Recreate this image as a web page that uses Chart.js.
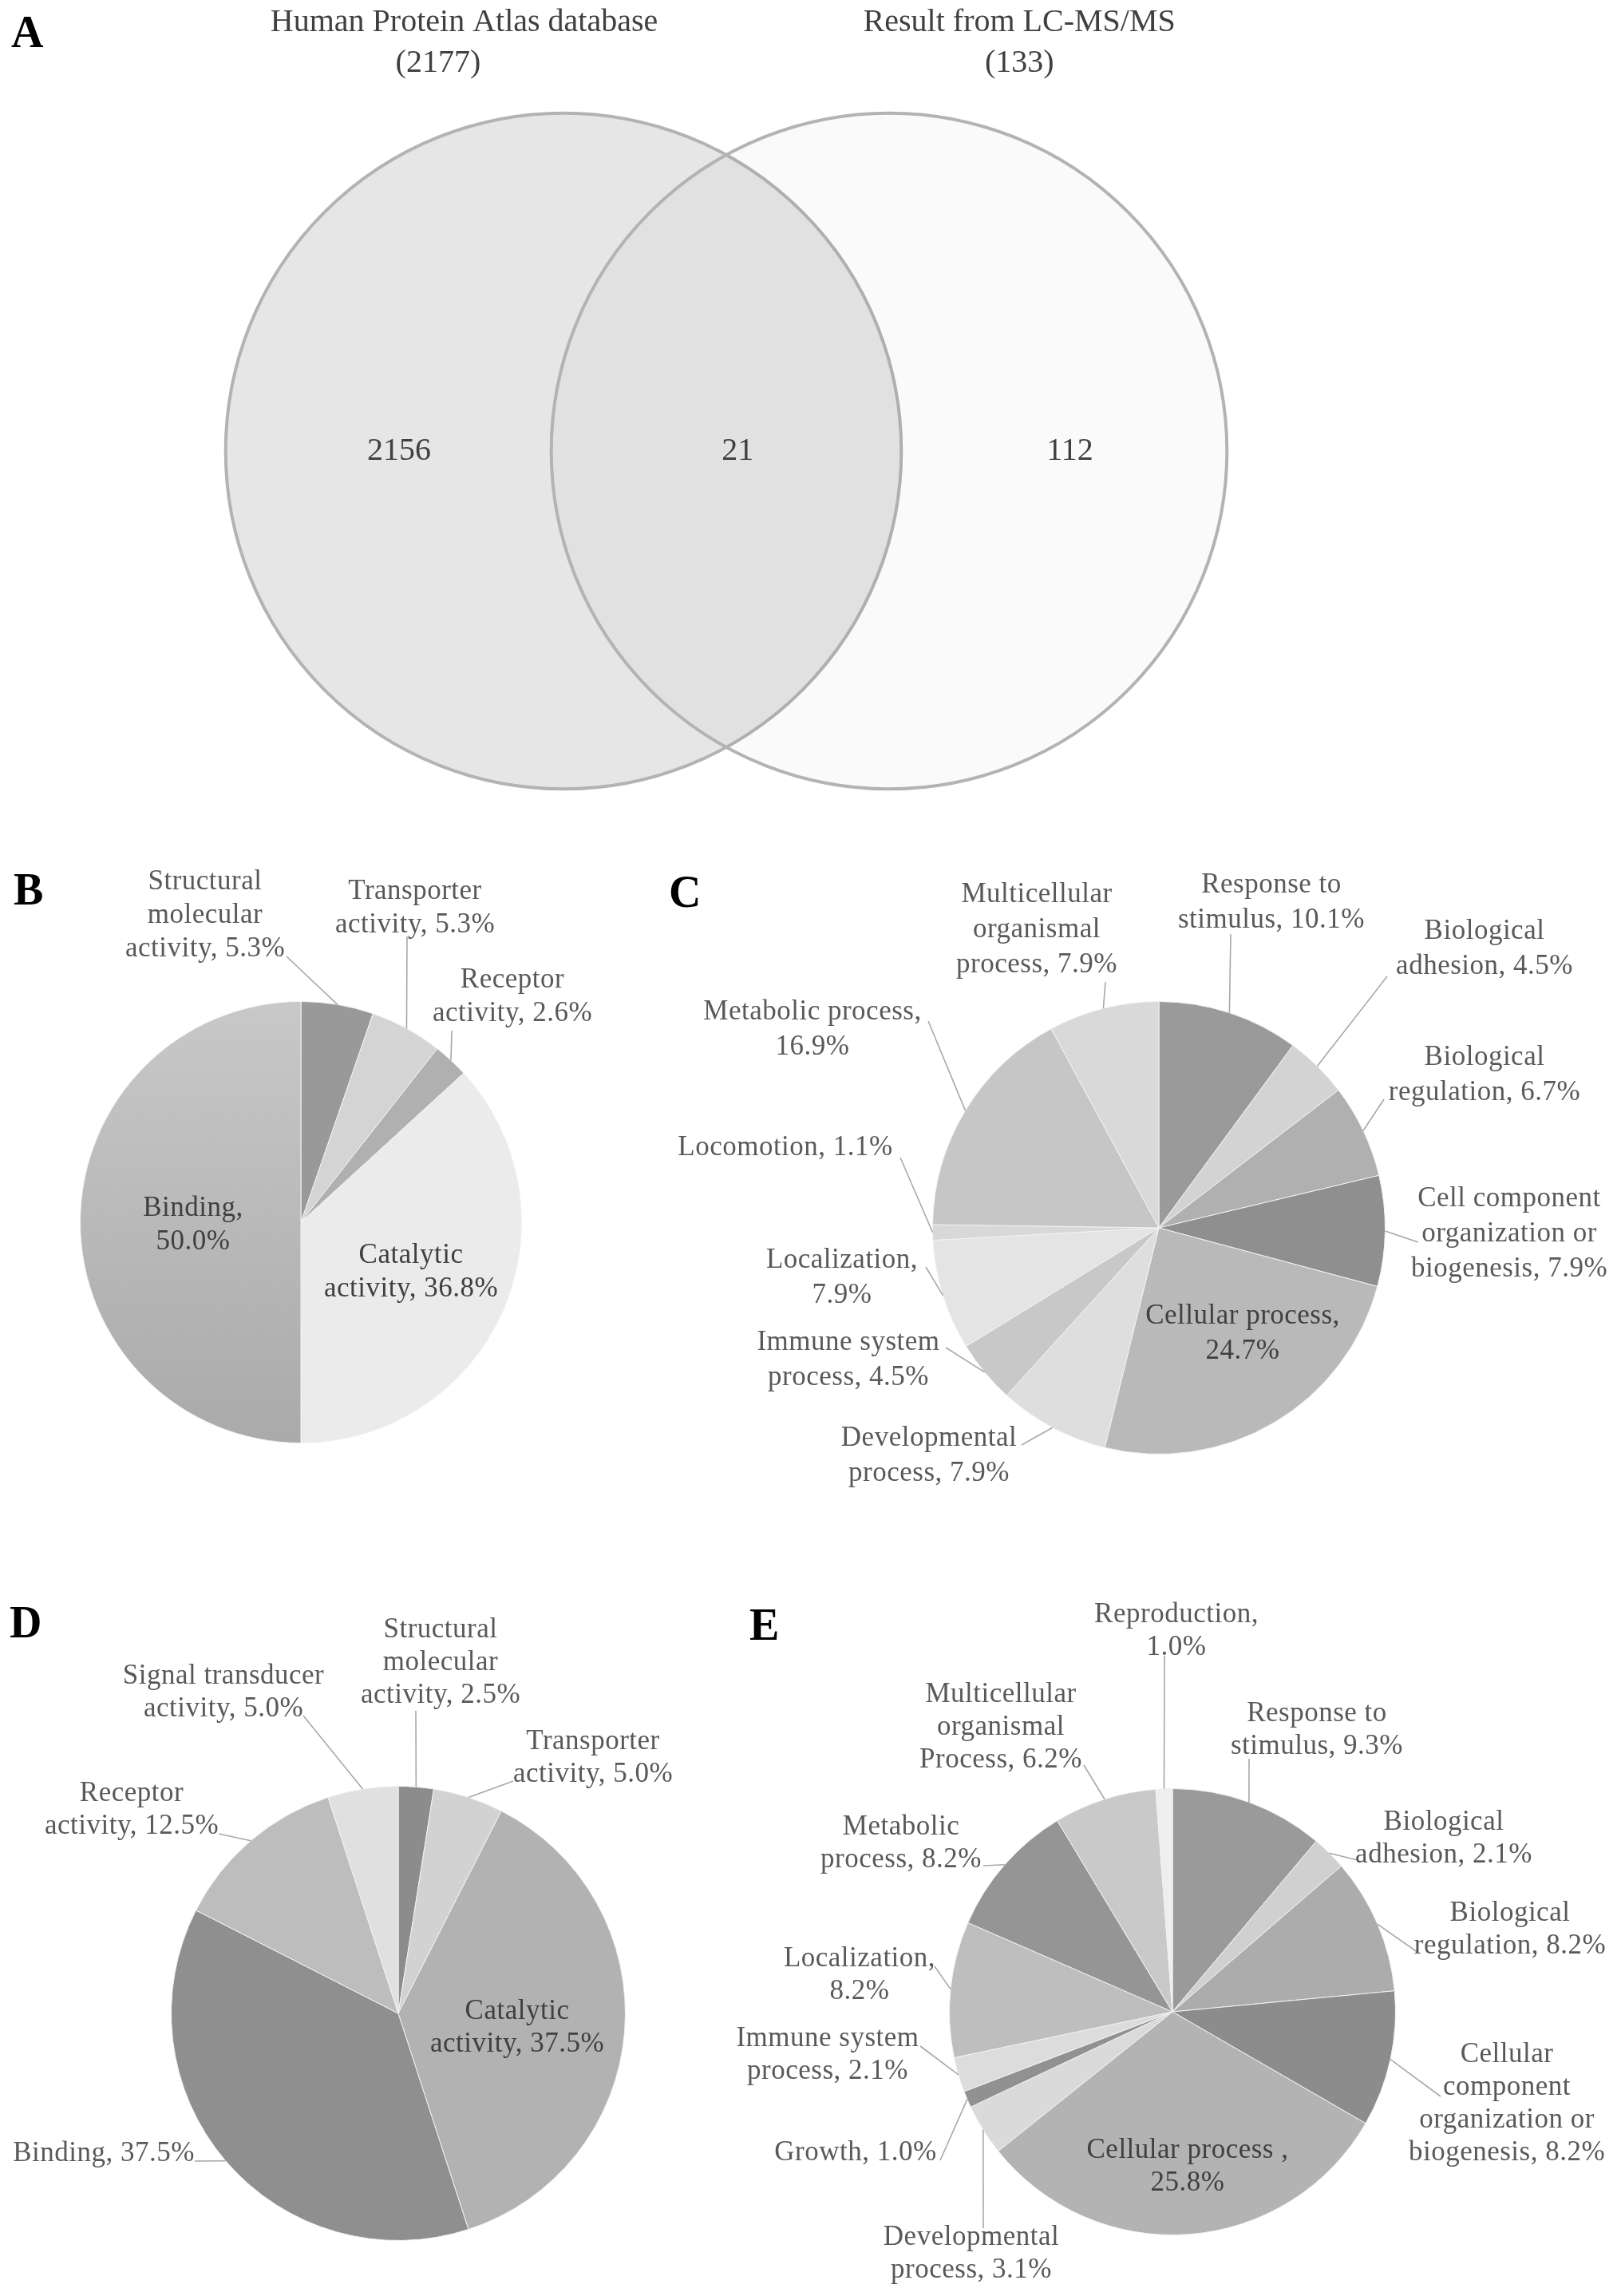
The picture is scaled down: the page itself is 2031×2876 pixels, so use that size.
<!DOCTYPE html>
<html>
<head>
<meta charset="utf-8">
<script src="https://cdn.jsdelivr.net/npm/chart.js@4.4.1/dist/chart.umd.min.js"></script>
<style>
html, body { margin: 0; padding: 0; background: #fff; }
#page { position: relative; width: 2031px; height: 2876px; background: #fff; overflow: hidden; }
canvas { position: absolute; }
.panel { position: absolute; font: bold 56px 'Liberation Serif', serif; line-height: 56px; color: #000; }
</style>
</head>
<body>
<div id="page">
  <canvas id="venn"></canvas>
  <canvas id="pieB"></canvas>
  <canvas id="pieC"></canvas>
  <canvas id="pieD"></canvas>
  <canvas id="pieE"></canvas>
  <div class="panel" style="left:14px;top:12px">A</div>
  <div class="panel" style="left:17px;top:1086px">B</div>
  <div class="panel" style="left:838px;top:1089px">C</div>
  <div class="panel" style="left:12px;top:2004px">D</div>
  <div class="panel" style="left:939px;top:2007px">E</div>
</div>
<script>
// ---- data ----
const vennSets = ['Human Protein Atlas database', 'Result from LC-MS/MS'];
const vennTotals = [2177, 133];
const vennCounts = [2156, 21, 112]; // only HPA, both, only LC-MS/MS

const bLabels = ['Structural molecular activity', 'Transporter activity', 'Receptor activity', 'Catalytic activity', 'Binding'];
const bValues = [5.3, 5.3, 2.6, 36.8, 50.0];

const cLabels = ['Response to stimulus', 'Biological adhesion', 'Biological regulation',
  'Cell component organization or biogenesis', 'Cellular process', 'Developmental process',
  'Immune system process', 'Localization', 'Locomotion', 'Metabolic process',
  'Multicellular organismal process'];
const cValues = [10.1, 4.5, 6.7, 7.9, 24.7, 7.9, 4.5, 7.9, 1.1, 16.9, 7.9];

const dLabels = ['Structural molecular activity', 'Transporter activity', 'Catalytic activity',
  'Binding', 'Receptor activity', 'Signal transducer activity'];
const dValues = [2.5, 5.0, 37.5, 37.5, 12.5, 5.0];

const eLabels = ['Response to stimulus', 'Biological adhesion', 'Biological regulation',
  'Cellular component organization or biogenesis', 'Cellular process ', 'Developmental process',
  'Growth', 'Immune system process', 'Localization', 'Metabolic process',
  'Multicellular organismal Process', 'Reproduction'];
const eValues = [9.3, 2.1, 8.2, 8.2, 25.8, 3.1, 1.0, 2.1, 8.2, 8.2, 6.2, 1.0];

// ---- styles / layout ----
const LABEL_FONT = "35px 'Liberation Serif', serif";
const LABEL_COLOR = '#595959';
const INNER_COLOR = '#404040';
const LEAD_COLOR = '#a8a8a8';

const bColors = ['#999999', '#d4d4d4', '#b0b0b0', '#ebebeb', 'gradient'];
const cColors = ['#9a9a9a', '#d3d3d3', '#b0b0b0', '#8f8f8f', '#b9b9b9', '#dedede',
  '#c8c8c8', '#e4e4e4', '#d8d8d8', '#c6c6c6', '#d9d9d9'];
const dColors = ['#8c8c8c', '#d2d2d2', '#b2b2b2', '#8f8f8f', '#bdbdbd', '#e0e0e0'];
const eColors = ['#9a9a9a', '#d0d0d0', '#acacac', '#8c8c8c', '#b3b3b3', '#dadada',
  '#919191', '#dcdcdc', '#bebebe', '#959595', '#c9c9c9', '#eeeeee'];

// label layout: offsets from pie centre (px); breaks = words per line; lead = leader start
const bLayout = [
  { x: -120, y: -426, breaks: [1, 1, 2], lead: [-18, -333] },
  { x: 143, y: -414, breaks: [1, 2], lead: [133, -358] },
  { x: 265, y: -303, breaks: [1, 2], lead: [189, -240] },
  { x: 138, y: 42, breaks: [1, 2], lead: null },
  { x: -135, y: -17, breaks: [1, 1], lead: null }
];
const cLayout = [
  { x: 141, y: -429, breaks: [2, 2], lead: [90, -368] },
  { x: 408, y: -371, breaks: [1, 2], lead: [286, -315] },
  { x: 408, y: -213, breaks: [1, 2], lead: [282, -161] },
  { x: 439, y: -36, breaks: [2, 2, 2], lead: [325, 18] },
  { x: 105, y: 111, breaks: [2, 1], lead: null },
  { x: -288, y: 264, breaks: [1, 2], lead: [-172, 272] },
  { x: -389, y: 144, breaks: [2, 2], lead: [-267, 150] },
  { x: -397, y: 41, breaks: [1, 1], lead: [-292, 49] },
  { x: -468, y: -100, breaks: [2], lead: [-324, -88] },
  { x: -434, y: -270, breaks: [2, 1], lead: [-289, -259] },
  { x: -153, y: -417, breaks: [1, 1, 2], lead: [-67, -308] }
];
const dLayout = [
  { x: 53, y: -480, breaks: [1, 1, 2], lead: [22, -379] },
  { x: 244, y: -340, breaks: [1, 2], lead: [144, -291] },
  { x: 149, y: -2, breaks: [1, 2], lead: null },
  { x: -369, y: 176, breaks: [2], lead: [-255, 185] },
  { x: -334, y: -275, breaks: [1, 2], lead: [-225, -225] },
  { x: -219, y: -422, breaks: [2, 2], lead: [-119, -373] }
];
const eLayout = [
  { x: 181, y: -373, breaks: [2, 2], lead: [96, -317] },
  { x: 340, y: -237, breaks: [1, 2], lead: [232, -190] },
  { x: 423, y: -123, breaks: [1, 2], lead: [308, -74] },
  { x: 419, y: 54, breaks: [1, 1, 2, 2], lead: [336, 106] },
  { x: 19, y: 174, breaks: [3, 1], lead: null },
  { x: -252, y: 283, breaks: [1, 2], lead: [-237, 271] },
  { x: -397, y: 177, breaks: [2], lead: [-291, 186] },
  { x: -432, y: 34, breaks: [2, 2], lead: [-316, 43] },
  { x: -392, y: -66, breaks: [1, 1], lead: [-298, -57] },
  { x: -340, y: -231, breaks: [1, 2], lead: [-237, -183] },
  { x: -215, y: -397, breaks: [1, 1, 2], lead: [-111, -309] },
  { x: 5, y: -497, breaks: [1, 1], lead: [-10, -446] }
];

// ---- pie label plugin ----
function makeLabels(layout, lineHeight) {
  return {
    id: 'pieLabels',
    afterDatasetsDraw(chart) {
      const ctx = chart.ctx;
      const cats = chart.data.labels;
      const vals = chart.data.datasets[0].data;
      ctx.save();
      ctx.font = LABEL_FONT;
      ctx.letterSpacing = '0.5px';
      ctx.textAlign = 'center';
      ctx.textBaseline = 'middle';
      ctx.strokeStyle = LEAD_COLOR;
      ctx.lineWidth = 1.6;
      chart.getDatasetMeta(0).data.forEach((arc, i) => {
        const L = layout[i];
        const p = arc.getProps(['x', 'y', 'startAngle', 'endAngle', 'outerRadius'], true);
        const mid = (p.startAngle + p.endAngle) / 2;
        if (L.lead) {
          ctx.beginPath();
          ctx.moveTo(p.x + L.lead[0], p.y + L.lead[1]);
          ctx.lineTo(p.x + Math.cos(mid) * p.outerRadius, p.y + Math.sin(mid) * p.outerRadius);
          ctx.stroke();
        }
        const words = (cats[i] + ', ' + vals[i].toFixed(1) + '%').split(' ');
        ctx.fillStyle = L.lead ? LABEL_COLOR : INNER_COLOR;
        let k = 0;
        L.breaks.forEach((n, j) => {
          ctx.fillText(words.slice(k, k + n).join(' '), p.x + L.x, p.y + L.y + j * lineHeight);
          k += n;
        });
      });
      ctx.restore();
    }
  };
}

function drawPie(id, box, pie, labels, values, colors, layout, lineHeight) {
  const cv = document.getElementById(id);
  cv.width = box.w; cv.height = box.h;
  cv.style.left = box.x + 'px'; cv.style.top = box.y + 'px';
  const pad = {
    left: pie.cx - pie.r - box.x,
    top: pie.cy - pie.r - box.y,
    right: box.x + box.w - pie.cx - pie.r,
    bottom: box.y + box.h - pie.cy - pie.r
  };
  const bg = colors.map(c => c !== 'gradient' ? c : (ctx) => {
    const a = ctx.chart.chartArea;
    if (!a) return '#b8b8b8';
    const g = ctx.chart.ctx.createLinearGradient(0, a.top, 0, a.bottom);
    g.addColorStop(0, '#c8c8c8');
    g.addColorStop(1, '#aaaaaa');
    return g;
  });
  return new Chart(cv, {
    type: 'pie',
    data: {
      labels: labels,
      datasets: [{ data: values, backgroundColor: (ctx) => {
        const c = bg[ctx.dataIndex];
        return typeof c === 'function' ? c(ctx) : c;
      }, borderColor: '#f2f2f2', borderWidth: 1 }]
    },
    options: {
      responsive: false,
      animation: false,
      devicePixelRatio: 1,
      events: [],
      layout: { padding: pad },
      plugins: { legend: { display: false }, tooltip: { enabled: false } }
    },
    plugins: [makeLabels(layout, lineHeight)]
  });
}

drawPie('pieB', { x: 0, y: 1060, w: 830, h: 880 }, { cx: 377, cy: 1531, r: 277 }, bLabels, bValues, bColors, bLayout, 42);
drawPie('pieC', { x: 830, y: 1060, w: 1201, h: 880 }, { cx: 1452, cy: 1538, r: 284 }, cLabels, cValues, cColors, cLayout, 44);
drawPie('pieD', { x: 0, y: 1960, w: 900, h: 916 }, { cx: 499, cy: 2522, r: 285 }, dLabels, dValues, dColors, dLayout, 41);
drawPie('pieE', { x: 900, y: 1960, w: 1131, h: 916 }, { cx: 1469, cy: 2520, r: 280 }, eLabels, eValues, eColors, eLayout, 41);

// ---- Venn diagram (panel A) ----
const U = 204;           // px per unit
const X0 = 910, Y0 = 565; // page position of the venn origin
const VENN_R = 2.075;    // circle radius, units
const vennCircleX = [-1, 1];
const vennTitleX = [-1.61, 1.8];
const vennTotalX = [-1.77, 1.8];
const vennCountX = [-2.01, 0.07, 2.11];

(function () {
  const cv = document.getElementById('venn');
  const box = { x: 0, y: 0, w: 2031, h: 1060 };
  cv.width = box.w; cv.height = box.h;
  cv.style.left = '0px'; cv.style.top = '0px';
  const xr = 4, yr = 2.4;
  const pad = {
    left: X0 - xr * U, right: box.w - (X0 + xr * U),
    top: Y0 - yr * U, bottom: box.h - (Y0 + yr * U)
  };
  const vennText = {
    id: 'vennText',
    afterDraw(chart) {
      const ctx = chart.ctx, sx = chart.scales.x, sy = chart.scales.y;
      ctx.save();
      ctx.font = "40px 'Liberation Serif', serif";
      ctx.fillStyle = '#404040';
      ctx.textAlign = 'center';
      ctx.textBaseline = 'middle';
      vennSets.forEach((s, i) => {
        ctx.fillText(s, sx.getPixelForValue(vennTitleX[i]), sy.getPixelForValue(2.63));
        ctx.fillText('(' + vennTotals[i] + ')', sx.getPixelForValue(vennTotalX[i]), sy.getPixelForValue(2.38));
      });
      vennCounts.forEach((n, i) => {
        ctx.fillText(String(n), sx.getPixelForValue(vennCountX[i]), sy.getPixelForValue(0));
      });
      ctx.restore();
    }
  };
  new Chart(cv, {
    type: 'scatter',
    data: {
      datasets: [{
        data: vennCircleX.map(x => ({ x: x, y: 0 })),
        clip: false,
        pointRadius: (ctx) => {
          const s = ctx.chart.scales.x;
          return s.getPixelForValue(VENN_R) - s.getPixelForValue(0);
        },
        pointBackgroundColor: ['#e6e6e6', 'rgba(0,0,0,0.018)'],
        pointBorderColor: '#b3b3b3',
        pointBorderWidth: 4
      }]
    },
    options: {
      responsive: false,
      animation: false,
      devicePixelRatio: 1,
      events: [],
      layout: { padding: pad },
      scales: {
        x: { type: 'linear', min: -xr, max: xr, display: false },
        y: { type: 'linear', min: -yr, max: yr, display: false }
      },
      plugins: { legend: { display: false }, tooltip: { enabled: false } }
    },
    plugins: [vennText]
  });
})();
</script>
</body>
</html>
